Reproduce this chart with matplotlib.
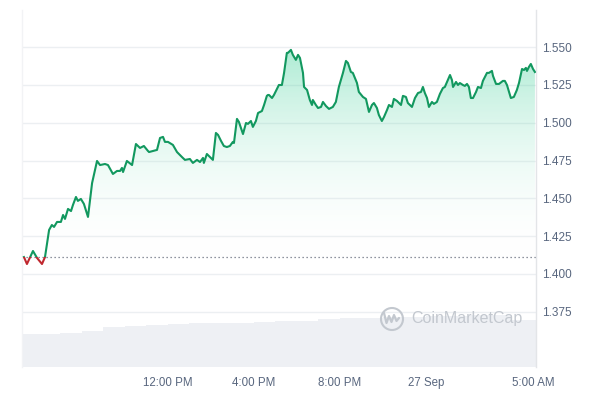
import numpy as np
import matplotlib
matplotlib.use("Agg")
import matplotlib.pyplot as plt
from matplotlib.colors import LinearSegmentedColormap
from matplotlib.patches import Rectangle, Circle
from matplotlib.lines import Line2D

# ---------------- data ----------------
# hours since 00:00 on 26 Sep
hours = [5.30, 5.44, 5.72, 5.91, 6.14, 6.28, 6.47, 6.60, 6.70, 6.84, 7.02, 7.12, 7.21, 7.35, 7.49,
         7.58, 7.72, 7.81, 7.95, 8.09, 8.28, 8.47, 8.70, 8.84, 9.07, 9.21, 9.44, 9.63, 9.77, 9.86,
         9.91, 10.09, 10.33, 10.51, 10.70, 10.88, 11.07, 11.12, 11.30, 11.49, 11.63, 11.77, 11.86,
         12.00, 12.23, 12.42, 12.65, 12.79, 13.02, 13.16, 13.35, 13.49, 13.63, 13.67, 13.81, 13.95,
         14.09, 14.23, 14.33, 14.47, 14.60, 14.74, 14.88, 15.02, 15.07, 15.21, 15.30, 15.49, 15.63,
         15.72, 15.86, 15.95, 16.09, 16.19, 16.37, 16.47, 16.60, 16.65, 16.70, 16.84, 16.93, 17.07,
         17.16, 17.30, 17.40, 17.53, 17.58, 17.72, 17.81, 17.95, 18.05, 18.14, 18.28, 18.33, 18.47,
         18.60, 18.70, 18.74, 18.88, 18.98, 19.12, 19.21, 19.35, 19.49, 19.67, 19.81, 19.95, 20.14,
         20.28, 20.37, 20.51, 20.60, 20.79, 20.88, 21.07, 21.21, 21.35, 21.49, 21.58, 21.72, 21.81,
         21.95, 22.05, 22.19, 22.28, 22.42, 22.51, 22.65, 22.84, 22.93, 23.07, 23.16, 23.35, 23.49,
         23.63, 23.77, 23.86, 23.95, 24.05, 24.14, 24.28, 24.37, 24.51, 24.65, 24.79, 24.88, 24.98,
         25.12, 25.21, 25.26, 25.40, 25.49, 25.58, 25.72, 25.81, 25.91, 26.00, 26.09, 26.19, 26.33,
         26.42, 26.56, 26.65, 26.84, 26.93, 27.07, 27.12, 27.26, 27.40, 27.58, 27.67, 27.77, 27.95,
         28.09, 28.23, 28.33, 28.47, 28.56, 28.65, 28.70, 28.79, 28.88, 28.98, 29.07]
prices = [1.4112, 1.4066, 1.4152, 1.4106, 1.4066, 1.4112, 1.4291, 1.4324, 1.4311, 1.4344, 1.4344,
          1.4390, 1.4364, 1.4430, 1.4416, 1.4456, 1.4509, 1.4483, 1.4496, 1.4463, 1.4377, 1.4601,
          1.4747, 1.4720, 1.4727, 1.4720, 1.4661, 1.4681, 1.4681, 1.4701, 1.4674, 1.4747, 1.4720,
          1.4859, 1.4833, 1.4846, 1.4813, 1.4806, 1.4813, 1.4820, 1.4899, 1.4906, 1.4873, 1.4873,
          1.4853, 1.4806, 1.4773, 1.4754, 1.4760, 1.4734, 1.4754, 1.4740, 1.4767, 1.4734, 1.4793,
          1.4773, 1.4754, 1.4932, 1.4919, 1.4879, 1.4846, 1.4839, 1.4846, 1.4873, 1.4866, 1.5025,
          1.5005, 1.4925, 1.4998, 1.4992, 1.5011, 1.4972, 1.5011, 1.5064, 1.5077, 1.5117, 1.5177,
          1.5183, 1.5183, 1.5163, 1.5183, 1.5223, 1.5249, 1.5249, 1.5329, 1.5461, 1.5461, 1.5481,
          1.5448, 1.5415, 1.5448, 1.5428, 1.5329, 1.5236, 1.5216, 1.5150, 1.5117, 1.5150, 1.5117,
          1.5097, 1.5104, 1.5137, 1.5110, 1.5091, 1.5104, 1.5137, 1.5236, 1.5329, 1.5408, 1.5395,
          1.5335, 1.5329, 1.5263, 1.5203, 1.5170, 1.5157, 1.5071, 1.5117, 1.5130, 1.5097, 1.5051,
          1.5011, 1.5038, 1.5084, 1.5117, 1.5104, 1.5157, 1.5144, 1.5117, 1.5177, 1.5170, 1.5130,
          1.5104, 1.5163, 1.5196, 1.5203, 1.5236, 1.5196, 1.5163, 1.5104, 1.5137, 1.5124, 1.5137,
          1.5190, 1.5229, 1.5236, 1.5269, 1.5315, 1.5282, 1.5236, 1.5269, 1.5249, 1.5262, 1.5249,
          1.5243, 1.5256, 1.5236, 1.5163, 1.5163, 1.5203, 1.5236, 1.5229, 1.5276, 1.5329, 1.5329,
          1.5342, 1.5309, 1.5256, 1.5256, 1.5276, 1.5276, 1.5249, 1.5163, 1.5170, 1.5216, 1.5263,
          1.5355, 1.5348, 1.5362, 1.5342, 1.5368, 1.5388, 1.5355, 1.5335]
open_price = 1.411

# volume (arbitrary units, millions) hourly steps
vol_hours = [5.21, 6, 7, 8, 9, 10, 11, 12, 13, 14, 15, 16, 17, 18, 19, 20, 21, 22, 23, 24, 25, 26, 27, 28]
volumes = [66, 67, 69, 72, 80, 82, 85, 87, 88, 88, 89, 90, 92, 93, 96, 98, 99, 100, 101, 102, 103, 104, 104, 94]

y_ticks = [1.375, 1.400, 1.425, 1.450, 1.475, 1.500, 1.525, 1.550]
y_tick_labels = ["1.375", "1.400", "1.425", "1.450", "1.475", "1.500", "1.525", "1.550"]
x_ticks = [12, 16, 20, 24, 29]
x_tick_labels = ["12:00 PM", "4:00 PM", "8:00 PM", "27 Sep", "5:00 AM"]

# ---------------- style ----------------
GREEN = "#12985f"
RED = "#c0272e"
GRID = "#eceff2"
TXT = "#58667e"
FONT = "Liberation Sans"

hours = np.array(hours)
prices = np.array(prices)

fig = plt.figure(figsize=(6.0, 3.98), dpi=100)
rect = [22 / 600, 31 / 398, (536 - 22) / 600, 357 / 398]
ax_vol = fig.add_axes(rect, zorder=0)
ax = fig.add_axes(rect, zorder=1, sharex=ax_vol)
ax.patch.set_alpha(0)

xmin, xmax = 5.21, 29.12
ymin, ymax = 1.33854, 1.57446

# volume
vh = np.array(vol_hours + [29.2])
vv = np.array(volumes + [volumes[-1]])
ax_vol.fill_between(vh, vv, 0, step="post", color="#eef0f4", lw=0)
ax_vol.set_ylim(0, 357 * 2)
ax_vol.set_xlim(xmin, xmax)
ax_vol.axis("off")

# grid
for t in y_ticks:
    ax.axhline(t, color=GRID, lw=1.0, zorder=0)

# gradient fill under line
fill = ax.fill_between(hours, np.maximum(prices, open_price), open_price,
                       color="none", lw=0)
cmap = LinearSegmentedColormap.from_list(
    "g", [(1, 1, 1, 0), (22 / 255, 199 / 255, 132 / 255, 0.36)])
grad = np.linspace(0, 1, 256).reshape(-1, 1)
img = ax.imshow(grad, extent=[xmin, xmax, open_price - 0.004, 1.55], aspect="auto",
                cmap=cmap, origin="lower", zorder=1, interpolation="bicubic")
path = fill.get_paths()[0]
img.set_clip_path(path, transform=ax.transData)

# baseline dotted
ax.axhline(open_price, color="#6b7280", lw=0.9, ls=(0, (1, 2.2)), zorder=2)

# price line, green above open, red below
lg, = ax.plot(hours, prices, color=GREEN, lw=1.5, zorder=3, solid_joinstyle="round")
lr, = ax.plot(hours, prices, color=RED, lw=1.5, zorder=3, solid_joinstyle="round")
above = Rectangle((xmin, open_price), xmax - xmin, 1.0, transform=ax.transData)
below = Rectangle((xmin, open_price - 1.0), xmax - xmin, 1.0, transform=ax.transData)
lg.set_clip_path(above)
lr.set_clip_path(below)

ax.set_xlim(xmin, xmax)
ax.set_ylim(ymin, ymax)

# axes cosmetics
for s in ["top", "bottom"]:
    ax.spines[s].set_visible(False)
ax.spines["left"].set_color("#f2f3f5")
ax.spines["right"].set_color("#e3e5e8")
ax.spines["left"].set_linewidth(1.0)
ax.spines["right"].set_linewidth(1.0)

ax.yaxis.tick_right()
ax.set_yticks(y_ticks)
ax.set_yticklabels(y_tick_labels)
ax.set_xticks(x_ticks)
ax.set_xticklabels(x_tick_labels)
ax.tick_params(axis="y", length=0, pad=4, labelsize=8.5, labelcolor=TXT)
ax.tick_params(axis="x", length=0, pad=7, labelsize=8.3, labelcolor=TXT)
for lab in ax.get_xticklabels() + ax.get_yticklabels():
    lab.set_fontfamily(FONT)
ax.grid(False)

# watermark logo
wm = "#c3c8cf"
cy = 1 - 319 / 398
fig.patches.append(Circle((392, 398 - 319), 11, transform=None, fill=False,
                          ec=wm, lw=1.5, zorder=5))
wx = [384, 386.5, 389, 391.5, 394, 396.5, 399]
wy = [313, 323, 316, 322, 315, 321, 318]
fig.lines.append(Line2D([x / 600 for x in wx], [1 - y / 398 for y in wy],
                        transform=fig.transFigure, color=wm, lw=1.6, zorder=5,
                        solid_joinstyle="round", solid_capstyle="round"))
fig.text(411 / 600, cy, "CoinMarketCap", color=wm, fontsize=11.5, family=FONT,
         ha="left", va="center", zorder=5)

fig.savefig("out.png", dpi=100)
